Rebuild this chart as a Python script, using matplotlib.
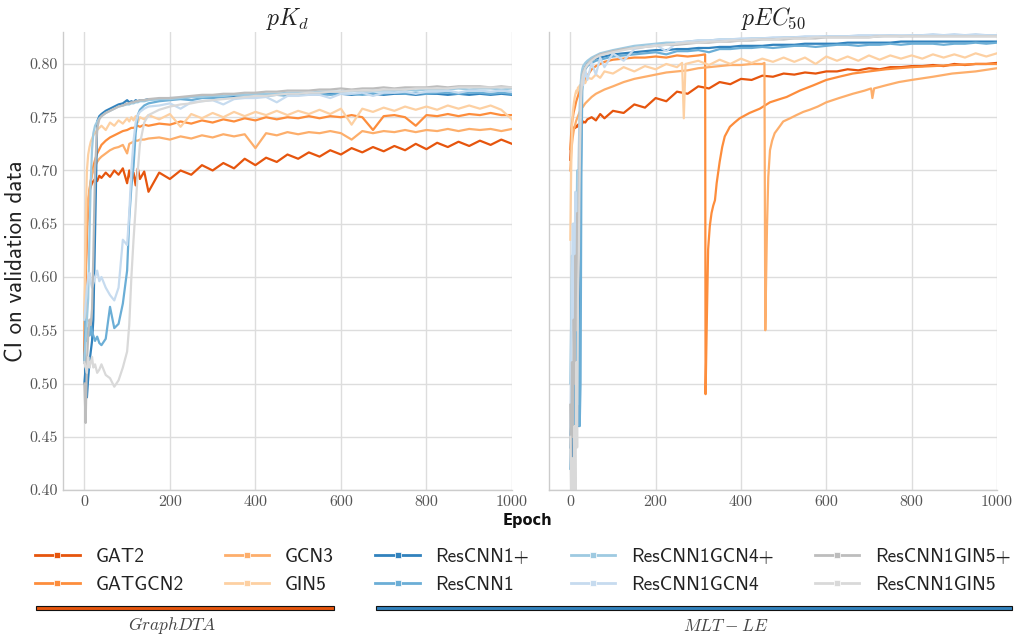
import matplotlib
matplotlib.use("Agg")
import matplotlib.pyplot as plt
import matplotlib.patheffects as pe
from matplotlib.lines import Line2D
from matplotlib.patches import Rectangle

# model names and colours (GraphDTA oranges, MLT-LE blues / greys)
MODELS = ["GAT2", "GATGCN2", "GCN3", "GIN5",
          "ResCNN1+", "ResCNN1", "ResCNN1GCN4+", "ResCNN1GCN4",
          "ResCNN1GIN5+", "ResCNN1GIN5"]
COLORS = ["#e6550d", "#fd8d3c", "#fdae6b", "#fdd0a2",
          "#3182bd", "#6baed6", "#9ecae1", "#c6dbef",
          "#bdbdbd", "#d9d9d9"]

X_TICKS = [0, 200, 400, 600, 800, 1000]
Y_TICKS = [0.40, 0.45, 0.50, 0.55, 0.60, 0.65, 0.70, 0.75, 0.80]

LATE_EPOCHS = [175, 200, 225, 250, 275, 300, 325, 350, 375, 400, 425, 450,
               475, 500, 525, 550, 575, 600, 625, 650, 675, 700, 725, 750,
               775, 800, 825, 850, 875, 900, 925, 950, 975, 1000]

# ---------------- pKd ----------------
KD_EPOCHS = [0, 3, 6, 9, 12, 15, 18, 21, 25, 30, 35, 40, 50, 60, 70, 80, 90,
             100, 105, 110, 115, 120, 125, 130, 140, 150] + LATE_EPOCHS

kd_gat2 = [0.520, 0.600, 0.650, 0.670, 0.680, 0.685, 0.688, 0.690, 0.692, 0.690,
           0.695, 0.693, 0.698, 0.694, 0.700, 0.696, 0.702, 0.688, 0.700, 0.690,
           0.698, 0.686, 0.702, 0.692, 0.699, 0.680,
           0.698, 0.692, 0.700, 0.696, 0.705, 0.700, 0.707, 0.702, 0.711, 0.705,
           0.712, 0.708, 0.715, 0.711, 0.717, 0.713, 0.719, 0.715, 0.721, 0.717,
           0.722, 0.718, 0.723, 0.719, 0.725, 0.720, 0.726, 0.722, 0.727, 0.723,
           0.728, 0.724, 0.729, 0.725]
kd_gatgcn2 = [0.530, 0.600, 0.640, 0.665, 0.680, 0.690, 0.698, 0.704, 0.710, 0.716,
              0.720, 0.724, 0.728, 0.731, 0.733, 0.735, 0.737, 0.738, 0.739, 0.740,
              0.740, 0.741, 0.742, 0.741, 0.743, 0.742,
              0.744, 0.743, 0.746, 0.744, 0.747, 0.745, 0.748, 0.746, 0.749, 0.747,
              0.750, 0.748, 0.750, 0.749, 0.751, 0.749, 0.751, 0.750, 0.752, 0.750,
              0.738, 0.751, 0.752, 0.750, 0.742, 0.752, 0.751, 0.753, 0.751, 0.753,
              0.752, 0.754, 0.752, 0.752]
kd_gcn3 = [0.550, 0.620, 0.655, 0.672, 0.683, 0.690, 0.696, 0.700, 0.704, 0.708,
           0.711, 0.713, 0.716, 0.719, 0.721, 0.722, 0.724, 0.716, 0.725, 0.726,
           0.727, 0.728, 0.728, 0.729, 0.729, 0.730,
           0.731, 0.729, 0.732, 0.730, 0.733, 0.731, 0.734, 0.732, 0.734, 0.721,
           0.735, 0.733, 0.736, 0.734, 0.736, 0.735, 0.737, 0.735, 0.729, 0.737,
           0.735, 0.737, 0.736, 0.738, 0.736, 0.738, 0.737, 0.739, 0.737, 0.739,
           0.738, 0.739, 0.737, 0.739]
kd_gin5 = [0.560, 0.650, 0.700, 0.715, 0.722, 0.727, 0.730, 0.733, 0.735, 0.738,
           0.740, 0.742, 0.738, 0.745, 0.742, 0.747, 0.744, 0.749, 0.746, 0.750,
           0.747, 0.751, 0.745, 0.750, 0.748, 0.752,
           0.748, 0.753, 0.741, 0.753, 0.749, 0.754, 0.750, 0.755, 0.751, 0.755,
           0.752, 0.756, 0.752, 0.756, 0.753, 0.757, 0.753, 0.758, 0.743, 0.758,
           0.755, 0.759, 0.756, 0.760, 0.757, 0.760, 0.757, 0.761, 0.758, 0.761,
           0.758, 0.761, 0.757, 0.748]
kd_rescnn1p = [0.500, 0.515, 0.487, 0.505, 0.520, 0.530, 0.540, 0.560, 0.640, 0.746,
               0.751, 0.753, 0.756, 0.758, 0.760, 0.762, 0.763, 0.766, 0.764, 0.765,
               0.764, 0.766, 0.765, 0.766, 0.766, 0.767,
               0.767, 0.768, 0.768, 0.769, 0.769, 0.770, 0.769, 0.770, 0.771, 0.770,
               0.771, 0.771, 0.772, 0.771, 0.772, 0.771, 0.772, 0.772, 0.771, 0.772,
               0.772, 0.771, 0.772, 0.772, 0.771, 0.772, 0.772, 0.771, 0.772, 0.771,
               0.772, 0.771, 0.772, 0.771]
kd_rescnn1 = [0.520, 0.560, 0.540, 0.552, 0.545, 0.556, 0.548, 0.545, 0.540, 0.544,
              0.538, 0.536, 0.542, 0.572, 0.552, 0.556, 0.575, 0.606, 0.655, 0.685,
              0.704, 0.735, 0.752, 0.757, 0.761, 0.763,
              0.765, 0.766, 0.767, 0.766, 0.768, 0.768, 0.769, 0.768, 0.770, 0.770,
              0.770, 0.771, 0.770, 0.771, 0.771, 0.772, 0.771, 0.772, 0.772, 0.771,
              0.772, 0.772, 0.773, 0.772, 0.773, 0.772, 0.773, 0.773, 0.772, 0.773,
              0.773, 0.772, 0.773, 0.772]
kd_rescnn1gcn4p = [0.520, 0.540, 0.560, 0.580, 0.640, 0.690, 0.720, 0.735, 0.742, 0.746,
                   0.749, 0.751, 0.754, 0.756, 0.758, 0.760, 0.761, 0.762, 0.762, 0.763,
                   0.763, 0.764, 0.764, 0.765, 0.765, 0.766,
                   0.767, 0.767, 0.768, 0.769, 0.769, 0.770, 0.770, 0.771, 0.771, 0.772,
                   0.772, 0.772, 0.773, 0.773, 0.773, 0.774, 0.774, 0.774, 0.775, 0.774,
                   0.775, 0.775, 0.775, 0.776, 0.775, 0.776, 0.776, 0.776, 0.777, 0.776,
                   0.777, 0.777, 0.776, 0.777]
kd_rescnn1gcn4 = [0.560, 0.575, 0.590, 0.600, 0.604, 0.595, 0.590, 0.594, 0.600, 0.606,
                  0.596, 0.600, 0.590, 0.583, 0.578, 0.590, 0.635, 0.630, 0.660, 0.700,
                  0.728, 0.745, 0.752, 0.755, 0.758, 0.760,
                  0.761, 0.763, 0.758, 0.764, 0.765, 0.766, 0.762, 0.767, 0.768, 0.768,
                  0.769, 0.764, 0.770, 0.770, 0.771, 0.771, 0.768, 0.772, 0.772, 0.773,
                  0.770, 0.773, 0.773, 0.774, 0.772, 0.774, 0.774, 0.775, 0.773, 0.775,
                  0.775, 0.774, 0.775, 0.774]
kd_rescnn1gin5p = [0.500, 0.463, 0.520, 0.545, 0.560, 0.555, 0.570, 0.620, 0.700, 0.740,
                   0.748, 0.751, 0.754, 0.756, 0.758, 0.760, 0.761, 0.763, 0.763, 0.764,
                   0.764, 0.765, 0.765, 0.766, 0.766, 0.767,
                   0.768, 0.768, 0.769, 0.770, 0.771, 0.771, 0.772, 0.772, 0.773, 0.773,
                   0.774, 0.774, 0.775, 0.775, 0.775, 0.776, 0.776, 0.777, 0.776, 0.777,
                   0.777, 0.778, 0.777, 0.778, 0.778, 0.778, 0.779, 0.778, 0.779, 0.779,
                   0.779, 0.778, 0.779, 0.778]
kd_rescnn1gin5 = [0.520, 0.515, 0.510, 0.525, 0.515, 0.520, 0.525, 0.515, 0.518, 0.510,
                  0.513, 0.518, 0.508, 0.505, 0.497, 0.503, 0.515, 0.530, 0.555, 0.600,
                  0.635, 0.665, 0.700, 0.725, 0.745, 0.752,
                  0.757, 0.760, 0.762, 0.763, 0.765, 0.766, 0.767, 0.768, 0.769, 0.770,
                  0.770, 0.771, 0.772, 0.772, 0.773, 0.773, 0.774, 0.774, 0.775, 0.775,
                  0.775, 0.776, 0.776, 0.776, 0.777, 0.777, 0.777, 0.777, 0.778, 0.778,
                  0.778, 0.778, 0.778, 0.778]

# ---------------- pEC50 ----------------
EC_EPOCHS = [0, 2, 4, 6, 8, 10, 12, 14, 16, 18, 20, 22, 24, 26, 28, 30, 35, 40,
             50, 60, 70, 80, 100, 125, 150] + LATE_EPOCHS
EC_GATGCN2_EPOCHS = [0, 2, 4, 6, 8, 10, 14, 18, 22, 26, 30, 35, 40, 50, 60, 70, 80,
                     100, 125, 150, 175, 200, 225, 250, 275, 300, 316, 317, 320,
                     323, 327, 331, 335, 339, 343, 350, 356, 362, 374, 385, 397,
                     420, 444, 468, 491, 507, 538, 570, 600, 630, 662, 700, 740,
                     770, 800, 850, 900, 950, 1000]
EC_GCN3_EPOCHS = [0, 2, 4, 6, 8, 10, 14, 18, 22, 26, 30, 35, 40, 50, 60, 70, 80,
                  100, 125, 150, 175, 200, 225, 250, 275, 300, 325, 350, 375, 400,
                  425, 450, 455, 457, 459, 461, 464, 468, 473, 479, 490, 499, 515,
                  530, 546, 561, 580, 600, 630, 662, 690, 705, 708, 712, 740, 770,
                  800, 850, 895, 950, 1000]
EC_GIN5_EPOCHS = [0, 2, 4, 6, 8, 10, 12, 14, 16, 18, 20, 22, 24, 26, 28, 30, 35, 40,
                  50, 60, 70, 80, 100, 125, 150, 175, 200, 225, 250, 262, 266, 270,
                  300, 325, 350, 375, 400, 425, 450, 475, 500, 525, 550, 575, 600,
                  625, 650, 675, 700, 725, 750, 775, 800, 825, 850, 875, 900, 925,
                  950, 975, 1000]

ec_gat2 = [0.710, 0.728, 0.734, 0.737, 0.739, 0.741, 0.740, 0.742, 0.741, 0.743,
           0.742, 0.744, 0.743, 0.745, 0.744, 0.746, 0.745, 0.748, 0.750, 0.747,
           0.753, 0.749, 0.756, 0.754, 0.762,
           0.759, 0.768, 0.765, 0.774, 0.772, 0.779, 0.777, 0.783, 0.781, 0.786,
           0.785, 0.789, 0.788, 0.791, 0.790, 0.792, 0.791, 0.793, 0.793, 0.795,
           0.794, 0.796, 0.795, 0.797, 0.797, 0.798, 0.798, 0.799, 0.798, 0.800,
           0.799, 0.800, 0.800, 0.801]
ec_gatgcn2 = [0.720, 0.735, 0.745, 0.750, 0.755, 0.758, 0.765, 0.770, 0.775, 0.778,
              0.782, 0.785, 0.789, 0.795, 0.798, 0.800, 0.802, 0.804, 0.805, 0.806,
              0.806, 0.807, 0.806, 0.808, 0.807, 0.808, 0.809, 0.490, 0.560, 0.626,
              0.648, 0.660, 0.667, 0.672, 0.688, 0.708, 0.722, 0.732, 0.741, 0.745,
              0.749, 0.754, 0.758, 0.764, 0.767, 0.769, 0.775, 0.780, 0.785, 0.788,
              0.791, 0.793, 0.795, 0.796, 0.797, 0.798, 0.799, 0.800, 0.800]
ec_gcn3 = [0.700, 0.715, 0.725, 0.732, 0.737, 0.741, 0.747, 0.751, 0.755, 0.758,
           0.760, 0.763, 0.765, 0.769, 0.772, 0.774, 0.776, 0.779, 0.783, 0.786,
           0.788, 0.790, 0.792, 0.793, 0.794, 0.796, 0.797, 0.798, 0.799, 0.799,
           0.800, 0.800, 0.801, 0.550, 0.600, 0.647, 0.694, 0.719, 0.728, 0.735,
           0.741, 0.746, 0.749, 0.752, 0.755, 0.757, 0.760, 0.764, 0.768, 0.772,
           0.775, 0.777, 0.768, 0.777, 0.780, 0.783, 0.785, 0.788, 0.791, 0.793,
           0.796]
ec_gin5 = [0.635, 0.700, 0.740, 0.755, 0.762, 0.768, 0.772, 0.775, 0.773, 0.778,
           0.776, 0.780, 0.778, 0.782, 0.780, 0.784, 0.782, 0.787, 0.786, 0.790,
           0.787, 0.793, 0.791, 0.797, 0.793,
           0.798, 0.795, 0.800, 0.797, 0.801, 0.749, 0.800, 0.803, 0.799, 0.804,
           0.800, 0.805, 0.801, 0.805, 0.802, 0.806, 0.802, 0.806, 0.800, 0.807,
           0.803, 0.807, 0.803, 0.808, 0.804, 0.808, 0.805, 0.808, 0.805, 0.809,
           0.806, 0.809, 0.806, 0.810, 0.807, 0.810]
ec_rescnn1p = [0.440, 0.470, 0.430, 0.460, 0.450, 0.520, 0.480, 0.470, 0.550, 0.500,
               0.460, 0.560, 0.650, 0.760, 0.785, 0.792, 0.797, 0.800, 0.803, 0.805,
               0.806, 0.807, 0.809, 0.810, 0.811,
               0.812, 0.813, 0.813, 0.814, 0.814, 0.815, 0.815, 0.816, 0.816, 0.817,
               0.817, 0.817, 0.818, 0.818, 0.818, 0.819, 0.819, 0.819, 0.819, 0.820,
               0.820, 0.820, 0.820, 0.820, 0.821, 0.821, 0.821, 0.821, 0.821, 0.821,
               0.821, 0.821, 0.821, 0.821]
ec_rescnn1 = [0.420, 0.450, 0.500, 0.470, 0.520, 0.460, 0.560, 0.500, 0.480, 0.600,
              0.520, 0.460, 0.500, 0.700, 0.775, 0.788, 0.795, 0.798, 0.801, 0.803,
              0.804, 0.805, 0.807, 0.808, 0.809,
              0.810, 0.811, 0.809, 0.812, 0.812, 0.813, 0.811, 0.814, 0.814, 0.815,
              0.815, 0.816, 0.815, 0.816, 0.817, 0.817, 0.816, 0.817, 0.818, 0.818,
              0.817, 0.818, 0.818, 0.819, 0.818, 0.819, 0.819, 0.819, 0.818, 0.819,
              0.819, 0.820, 0.819, 0.820]
ec_rescnn1gcn4p = [0.500, 0.560, 0.620, 0.580, 0.650, 0.600, 0.550, 0.620, 0.700, 0.660,
                   0.720, 0.760, 0.780, 0.790, 0.795, 0.798, 0.801, 0.803, 0.806, 0.808,
                   0.810, 0.811, 0.813, 0.815, 0.817,
                   0.818, 0.819, 0.820, 0.820, 0.821, 0.822, 0.822, 0.823, 0.823, 0.823,
                   0.824, 0.824, 0.824, 0.825, 0.825, 0.825, 0.825, 0.826, 0.826, 0.826,
                   0.826, 0.826, 0.826, 0.827, 0.826, 0.827, 0.827, 0.827, 0.827, 0.827,
                   0.827, 0.827, 0.827, 0.827]
ec_rescnn1gcn4 = [0.460, 0.520, 0.600, 0.650, 0.560, 0.620, 0.680, 0.600, 0.560, 0.640,
                  0.700, 0.740, 0.770, 0.782, 0.788, 0.780, 0.795, 0.785, 0.801, 0.790,
                  0.806, 0.797, 0.810, 0.803, 0.814,
                  0.816, 0.818, 0.812, 0.820, 0.821, 0.822, 0.822, 0.823, 0.823, 0.824,
                  0.824, 0.824, 0.825, 0.825, 0.825, 0.826, 0.826, 0.826, 0.826, 0.826,
                  0.827, 0.827, 0.827, 0.827, 0.827, 0.827, 0.827, 0.828, 0.827, 0.828,
                  0.827, 0.828, 0.827, 0.827]
ec_rescnn1gin5p = [0.480, 0.420, 0.520, 0.450, 0.560, 0.500, 0.620, 0.550, 0.660, 0.600,
                   0.680, 0.720, 0.760, 0.780, 0.788, 0.792, 0.797, 0.800, 0.804, 0.807,
                   0.809, 0.810, 0.812, 0.814, 0.815,
                   0.816, 0.817, 0.818, 0.818, 0.819, 0.820, 0.820, 0.821, 0.821, 0.822,
                   0.822, 0.823, 0.823, 0.823, 0.824, 0.824, 0.824, 0.825, 0.825, 0.825,
                   0.825, 0.825, 0.826, 0.826, 0.826, 0.826, 0.826, 0.826, 0.826, 0.826,
                   0.826, 0.826, 0.826, 0.826]
ec_rescnn1gin5 = [0.450, 0.400, 0.430, 0.395, 0.410, 0.460, 0.395, 0.520, 0.440, 0.580,
                  0.620, 0.700, 0.750, 0.775, 0.785, 0.790, 0.796, 0.799, 0.803, 0.806,
                  0.808, 0.809, 0.811, 0.813, 0.815,
                  0.816, 0.817, 0.818, 0.819, 0.820, 0.820, 0.821, 0.821, 0.822, 0.822,
                  0.823, 0.823, 0.823, 0.824, 0.824, 0.824, 0.825, 0.825, 0.825, 0.825,
                  0.825, 0.825, 0.826, 0.826, 0.826, 0.826, 0.826, 0.826, 0.826, 0.826,
                  0.826, 0.826, 0.826, 0.826]

KD_RUNS = [(KD_EPOCHS, kd_gat2), (KD_EPOCHS, kd_gatgcn2), (KD_EPOCHS, kd_gcn3),
           (KD_EPOCHS, kd_gin5), (KD_EPOCHS, kd_rescnn1p), (KD_EPOCHS, kd_rescnn1),
           (KD_EPOCHS, kd_rescnn1gcn4p), (KD_EPOCHS, kd_rescnn1gcn4),
           (KD_EPOCHS, kd_rescnn1gin5p), (KD_EPOCHS, kd_rescnn1gin5)]
EC_RUNS = [(EC_EPOCHS, ec_gat2), (EC_GATGCN2_EPOCHS, ec_gatgcn2),
           (EC_GCN3_EPOCHS, ec_gcn3), (EC_GIN5_EPOCHS, ec_gin5),
           (EC_EPOCHS, ec_rescnn1p), (EC_EPOCHS, ec_rescnn1),
           (EC_EPOCHS, ec_rescnn1gcn4p), (EC_EPOCHS, ec_rescnn1gcn4),
           (EC_EPOCHS, ec_rescnn1gin5p), (EC_EPOCHS, ec_rescnn1gin5)]

plt.rcParams["mathtext.fontset"] = "cm"
plt.rcParams["axes.unicode_minus"] = False

fig = plt.figure(figsize=(10.14, 6.35), dpi=100)
ax_kd = fig.add_axes([0.0621, 0.2283, 0.4428, 0.7213])
ax_ec = fig.add_axes([0.5414, 0.2283, 0.4418, 0.7213], sharey=ax_kd)


def style_axis(ax, title):
    ax.set_xlim(-50, 1000)
    ax.set_ylim(0.40, 0.83)
    ax.set_xticks(X_TICKS, labels=[str(t) for t in X_TICKS], fontfamily="cmr10")
    ax.set_yticks(Y_TICKS, labels=["%.2f" % t for t in Y_TICKS], fontfamily="cmr10")
    ax.tick_params(length=0, labelsize=11.5, labelcolor="#555555", pad=4)
    ax.grid(True, color="#dddddd", lw=1.0)
    ax.set_axisbelow(True)
    for side in ("top", "right"):
        ax.spines[side].set_visible(False)
    for side in ("left", "bottom"):
        ax.spines[side].set_color("#cccccc")
        ax.spines[side].set_linewidth(1.0)
    ax.set_title(title, fontsize=17, pad=5, color="#222222")


for ax, runs in ((ax_kd, KD_RUNS), (ax_ec, EC_RUNS)):
    for (epochs, ci), color in zip(runs, COLORS):
        ax.plot(epochs, ci, color=color, lw=1.6)

style_axis(ax_kd, r"$pK_d$")
style_axis(ax_ec, r"$pEC_{50}$")
ax_ec.tick_params(labelleft=False)

fig.text(17 / 1014, 1 - 261 / 635, "CI on validation data", rotation=90,
         ha="center", va="center", fontfamily="cmss10", fontsize=16.5, color="#222222")
fig.text(527 / 1014, 1 - 521 / 635, "Epoch", ha="center", va="center",
         fontweight="bold", fontsize=10.5, color="#111111")

handles = [Line2D([], [], color=c, lw=2, marker="s", markersize=3.8,
                  markeredgecolor="white", markeredgewidth=0.5) for c in COLORS]
fig.legend(handles, MODELS, loc="upper left", bbox_to_anchor=(35 / 1014, 1 - 548 / 635),
           ncol=5, frameon=False, prop={"family": "cmss10", "size": 14},
           handlelength=2.3, handletextpad=0.8, columnspacing=2.12,
           labelspacing=0.5, borderpad=0, borderaxespad=0, labelcolor="#222222")

# group bars under the legend
shadow = [pe.SimplePatchShadow(offset=(1, -1), shadow_rgbFace="#888888", alpha=0.6),
          pe.Normal()]
fig.add_artist(Rectangle((36 / 1014, 1 - 610 / 635), 298 / 1014, 4 / 635,
                         transform=fig.transFigure, facecolor="#e6550d",
                         edgecolor="#111111", lw=0.8, path_effects=shadow))
fig.add_artist(Rectangle((376 / 1014, 1 - 610 / 635), 636 / 1014, 4 / 635,
                         transform=fig.transFigure, facecolor="#3182bd",
                         edgecolor="#111111", lw=0.8, path_effects=shadow))
fig.text(172 / 1014, 1 - 626 / 635, r"$GraphDTA$", ha="center", va="center",
         fontsize=12.5, color="#444444")
fig.text(726 / 1014, 1 - 626 / 635, r"$MLT-LE$", ha="center", va="center",
         fontsize=12.5, color="#444444")

fig.savefig("out.png", dpi=100, facecolor="white")
